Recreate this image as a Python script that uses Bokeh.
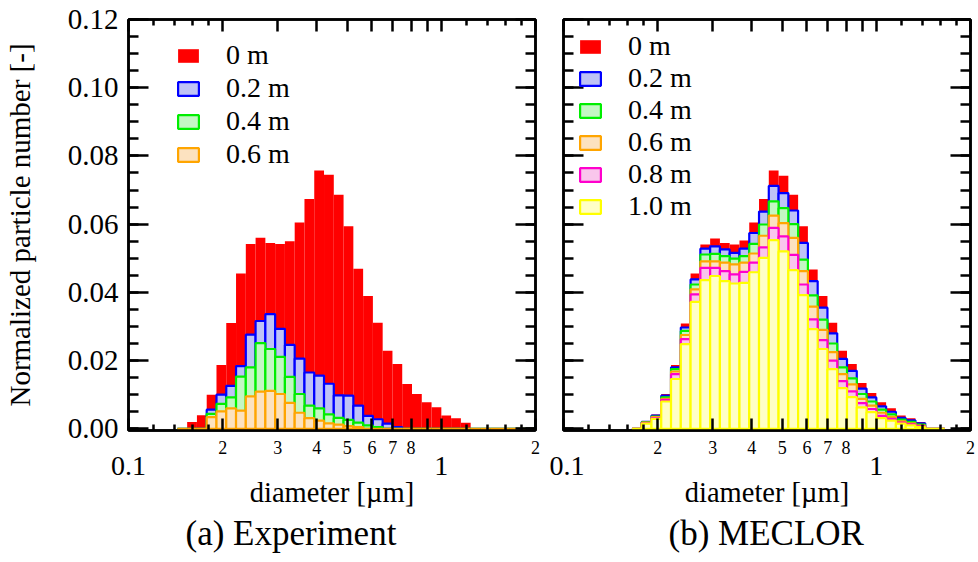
import numpy as np
from bokeh.plotting import figure
from bokeh.models import (LogAxis, LinearAxis, FixedTicker, SingleIntervalTicker, Range1d,
                          Legend, LegendItem, Title, PrintfTickFormatter, CustomJSTickFormatter)
from bokeh.layouts import row
from bokeh.embed import file_html
from bokeh.resources import INLINE

FONT = "Liberation Serif"
INK = "#000000"
BINS_PER_DECADE = 32

# ---------------- data ----------------
# (a) Experiment: bin k spans 10**(k/32) .. 10**((k+1)/32) um, k starting at EXP_K_FIRST
EXP_K_FIRST = -27
EXP_0m = [0, 0.0020, 0.0040, 0.0100, 0.0187, 0.0310, 0.0455, 0.0542, 0.0560, 0.0545,
          0.0542, 0.0550, 0.0605, 0.0674, 0.0757, 0.0745, 0.0686, 0.0594, 0.0469, 0.0389,
          0.0311, 0.0229, 0.0190, 0.0131, 0.0102, 0.0078, 0.0063, 0.0039, 0.0031, 0.0018,
          0, 0, 0, 0, 0, 0, 0]
EXP_02m = [0, 0, 0, 0.0056, 0.0100, 0.0126, 0.0184, 0.0276, 0.0316, 0.0336,
           0.0293, 0.0246, 0.0206, 0.0165, 0.0156, 0.0132, 0.0098, 0.0097, 0.0068, 0.0038,
           0.0028, 0.0015, 0.0005, 0, 0, 0, 0, 0, 0, 0,
           0, 0, 0, 0, 0, 0, 0]
EXP_04m = [0, 0, 0, 0.0044, 0.0073, 0.0092, 0.0153, 0.0180, 0.0251, 0.0234,
           0.0211, 0.0152, 0.0102, 0.0068, 0.0060, 0.0042, 0.0032, 0.0026, 0.0018, 0.0010,
           0.0005, 0, 0, 0, 0, 0, 0, 0, 0, 0,
           0, 0, 0, 0, 0, 0, 0]
EXP_06m = [0, 0, 0, 0.0034, 0.0051, 0.0060, 0.0053, 0.0095, 0.0109, 0.0111,
           0.0102, 0.0076, 0.0047, 0.0031, 0.0024, 0.0016, 0.0012, 0.0008, 0.0005, 0,
           0, 0, 0, 0, 0, 0, 0, 0, 0, 0,
           0, 0, 0, 0, 0, 0, 0]

# (b) MECLOR
MEC_K_FIRST = -25
MEC_0m = [0, 0.0021, 0.0042, 0.0102, 0.0187, 0.0309, 0.0455, 0.0540, 0.0558, 0.0545,
          0.0540, 0.0552, 0.0605, 0.0674, 0.0757, 0.0742, 0.0686, 0.0594, 0.0467, 0.0389,
          0.0311, 0.0229, 0.0190, 0.0134, 0.0105, 0.0078, 0.0060, 0.0039, 0.0031, 0.0020,
          0, 0]
MEC_02m = [0, 0.0020, 0.0039, 0.0097, 0.0180, 0.0297, 0.0438, 0.0528, 0.0535, 0.0526,
           0.0516, 0.0528, 0.0574, 0.0637, 0.0712, 0.0691, 0.0640, 0.0545, 0.0433, 0.0355,
           0.0280, 0.0205, 0.0170, 0.0118, 0.0092, 0.0066, 0.0050, 0.0032, 0.0025, 0.0016,
           0, 0]
MEC_04m = [0, 0.0019, 0.0036, 0.0092, 0.0175, 0.0287, 0.0423, 0.0511, 0.0513, 0.0506,
           0.0499, 0.0506, 0.0542, 0.0599, 0.0667, 0.0647, 0.0600, 0.0496, 0.0391, 0.0320,
           0.0250, 0.0180, 0.0148, 0.0102, 0.0080, 0.0056, 0.0042, 0.0027, 0.0020, 0.0012,
           0, 0]
MEC_06m = [0, 0.0018, 0.0034, 0.0088, 0.0168, 0.0275, 0.0409, 0.0491, 0.0491, 0.0487,
           0.0482, 0.0487, 0.0514, 0.0566, 0.0625, 0.0603, 0.0560, 0.0462, 0.0358, 0.0290,
           0.0225, 0.0160, 0.0130, 0.0088, 0.0068, 0.0047, 0.0035, 0.0022, 0.0016, 0.0009,
           0, 0]
MEC_08m = [0, 0.0016, 0.0031, 0.0085, 0.0160, 0.0263, 0.0394, 0.0472, 0.0472, 0.0462,
           0.0453, 0.0460, 0.0487, 0.0532, 0.0589, 0.0564, 0.0510, 0.0423, 0.0321, 0.0260,
           0.0200, 0.0140, 0.0110, 0.0075, 0.0058, 0.0038, 0.0029, 0.0018, 0.0013, 0.0007,
           0, 0]
MEC_10m = [0, 0.0015, 0.0029, 0.0080, 0.0146, 0.0248, 0.0372, 0.0436, 0.0448, 0.0433,
           0.0426, 0.0428, 0.0459, 0.0501, 0.0553, 0.0520, 0.0465, 0.0392, 0.0292, 0.0234,
           0.0175, 0.0119, 0.0093, 0.0063, 0.0049, 0.0031, 0.0024, 0.0015, 0.0010, 0.0005,
           0, 0]

X_TICKS = [0.1, 0.2, 0.3, 0.4, 0.5, 0.6, 0.7, 0.8, 0.9, 1.0, 2.0]
X_TICK_LABELS = ["", "2", "3", "4", "5", "6", "7", "8", "", "", "2"]
X_MINOR = [0.12, 0.14, 0.16, 0.18, 1.2, 1.4, 1.6, 1.8]
X_DECADES = [0.1, 1.0]
X_DECADE_LABELS = ["0.1", "1"]

STYLES = {
    "0 m":   dict(fill="#FF0000", line=None),
    "0.2 m": dict(fill="#BFC3F6", line="#0000FF"),
    "0.4 m": dict(fill="#C4F7C4", line="#00EE00"),
    "0.6 m": dict(fill="#FCE2C0", line="#FFA500"),
    "0.8 m": dict(fill="#F9C6EC", line="#FF00CC"),
    "1.0 m": dict(fill="#FFFFC6", line="#FFFF00"),
}

FRAME_H = 411


def edges(k_first, n):
    k = np.arange(k_first, k_first + n + 1)
    return 10.0 ** (k / BINS_PER_DECADE)


def make_panel(series, k_first, width, lmin, rmin, legend_xy, leg_spacing,
               subtitle, sub_offset, show_y):
    p = figure(width=width, height=562, x_axis_type="log",
               x_range=Range1d(0.1, 2.0), y_range=Range1d(-0.0005, 0.12),
               x_axis_location=None, y_axis_location=None,
               min_border_left=lmin, min_border_right=rmin, min_border_top=19,
               min_border_bottom=132, output_backend="svg", toolbar_location=None)
    p.xgrid.visible = False
    p.ygrid.visible = False
    p.outline_line_color = INK
    p.outline_line_width = 2.5
    p.background_fill_color = "white"
    p.border_fill_color = "white"

    items = []
    for name, vals in series:
        e = edges(k_first, len(vals))
        st = STYLES[name]
        r = p.quad(left=e[:-1], right=e[1:], bottom=0, top=vals,
                   fill_color=st["fill"], line_color=st["line"],
                   line_width=2.2 if st["line"] else 0)
        items.append(LegendItem(label=name, renderers=[r]))

    common = dict(axis_line_width=2.5, axis_line_color=INK,
                  major_tick_line_width=2.5, minor_tick_line_width=2.5,
                  major_tick_line_color=INK, minor_tick_line_color=INK,
                  major_tick_out=0, minor_tick_out=0, major_label_text_color=INK)

    # bottom: minor-digit labels
    xb = LogAxis(ticker=FixedTicker(ticks=X_TICKS, minor_ticks=X_MINOR),
                 major_label_overrides={t: l for t, l in zip(X_TICKS, X_TICK_LABELS)},
                 major_tick_in=12, minor_tick_in=6, major_label_standoff=10,
                 major_label_text_font=FONT, major_label_text_font_size="18px", **common)
    p.add_layout(xb, "below")
    # bottom: decade labels + title
    xd = LogAxis(ticker=FixedTicker(ticks=X_DECADES),
                 major_label_overrides={t: l for t, l in zip(X_DECADES, X_DECADE_LABELS)},
                 major_tick_in=0, major_tick_out=0, minor_tick_in=0, minor_tick_out=0,
                 axis_line_color=None, major_label_standoff=0, major_label_text_color=INK,
                 major_label_text_font=FONT, major_label_text_font_size="28px",
                 axis_label="diameter [µm]", axis_label_standoff=-1,
                 axis_label_text_font=FONT, axis_label_text_font_size="28.5px",
                 axis_label_text_font_style="normal", axis_label_text_color=INK)
    p.add_layout(xd, "below")
    # top mirror
    xt = LogAxis(ticker=FixedTicker(ticks=X_TICKS, minor_ticks=X_MINOR),
                 major_label_overrides={t: "" for t in X_TICKS},
                 major_tick_in=12, minor_tick_in=6, major_label_standoff=0, **common)
    p.add_layout(xt, "above")

    yticker = SingleIntervalTicker(interval=0.02, num_minor_ticks=4)
    if show_y:
        yl = LinearAxis(ticker=yticker, formatter=PrintfTickFormatter(format="%.2f"),
                        major_tick_in=20, minor_tick_in=10, major_label_standoff=10,
                        major_label_text_font=FONT, major_label_text_font_size="29px",
                        axis_label="Normalized particle number [-]", axis_label_standoff=29,
                        axis_label_text_font=FONT, axis_label_text_font_size="29px",
                        axis_label_text_font_style="normal", axis_label_text_color=INK,
                        **common)
    else:
        yl = LinearAxis(ticker=yticker, formatter=CustomJSTickFormatter(code="return ''"),
                        major_tick_in=20, minor_tick_in=10, major_label_standoff=0, **common)
    p.add_layout(yl, "left")
    yr = LinearAxis(ticker=yticker, formatter=CustomJSTickFormatter(code="return ''"),
                    major_tick_in=20, minor_tick_in=10, major_label_standoff=0, **common)
    p.add_layout(yr, "right")

    n = len(items)
    leg_h = n * 32 + (n - 1) * leg_spacing
    leg = Legend(items=items, location=(legend_xy[0], FRAME_H - legend_xy[1] - leg_h),
                 orientation="vertical", glyph_width=26, glyph_height=17,
                 label_standoff=25, label_height=32, spacing=leg_spacing, padding=0, margin=0,
                 border_line_color=None, background_fill_alpha=0,
                 label_text_font=FONT, label_text_font_size="28px", label_text_color=INK)
    p.add_layout(leg)

    t = Title(text=subtitle, align="left", offset=sub_offset, text_font=FONT,
              text_font_size="35px", text_font_style="normal", text_color=INK, standoff=2)
    p.add_layout(t, "below")
    return p


p1 = make_panel([("0 m", EXP_0m), ("0.2 m", EXP_02m), ("0.4 m", EXP_04m), ("0.6 m", EXP_06m)],
                EXP_K_FIRST, 549, 125, 14, (47, 20), 1, "(a) Experiment", 57, True)
p2 = make_panel([("0 m", MEC_0m), ("0.2 m", MEC_02m), ("0.4 m", MEC_04m), ("0.6 m", MEC_06m),
                 ("0.8 m", MEC_08m), ("1.0 m", MEC_10m)],
                MEC_K_FIRST, 429, 14, 8, (14, 11), 0, "(b) MECLOR", 105, False)

layout = row(p1, p2)
open("out.html", "w").write(file_html(layout, INLINE))
